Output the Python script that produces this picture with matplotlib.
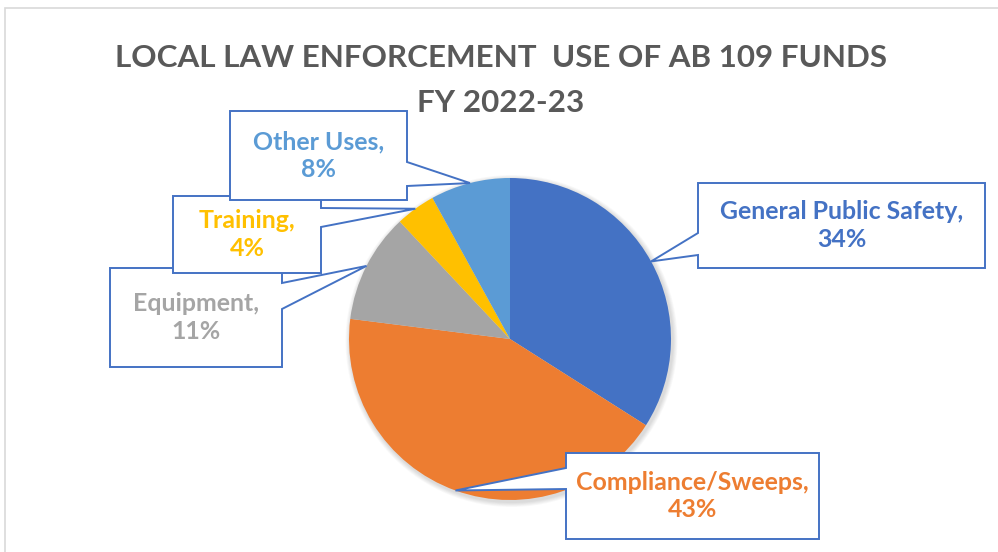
import numpy as np
import matplotlib
matplotlib.use("Agg")
import matplotlib.pyplot as plt
from matplotlib.patches import Polygon, Circle

# ---- data ----
categories = ["General Public Safety", "Compliance/Sweeps", "Equipment", "Training", "Other Uses"]
values = [34, 43, 11, 4, 8]
colors = ["#4472C4", "#ED7D31", "#A5A5A5", "#FFC000", "#5B9BD5"]
title_lines = ["LOCAL LAW ENFORCEMENT  USE OF AB 109 FUNDS", "FY 2022-23"]

W, H = 998, 552
fig = plt.figure(figsize=(W / 100, H / 100), dpi=100)
ax = fig.add_axes([0, 0, 1, 1])
ax.set_xlim(0, W)
ax.set_ylim(0, H)
ax.axis("off")

def Y(y_img):
    return H - y_img

FONT = ["Lato", "DejaVu Sans"]
renderer = fig.canvas.get_renderer()

def fit_size(text, width_px, weight="bold"):
    t = fig.text(0, 0, text, fontsize=10, family=FONT, weight=weight)
    w = t.get_window_extent(renderer).width
    t.remove()
    return 10 * width_px / w

# chart border
ax.plot([5, 5, W], [Y(H), Y(8), Y(8)], color="#D9D9D9", lw=1.2, solid_joinstyle="miter")

# pie
cx, cy, r = 510, Y(339), 161
for k in range(6):
    ax.add_patch(Circle((cx + 1.5, cy - 2), r + 1 + k * 0.8, color="black", alpha=0.025, lw=0, zorder=1))
ax.pie(values, colors=colors, startangle=90, counterclock=False,
       center=(cx, cy), radius=r, frame=True,
       wedgeprops=dict(linewidth=0, zorder=2))
ax.set_xlim(0, W)
ax.set_ylim(0, H)
ax.set_aspect("auto")
ax.axis("off")

# title
ts = fit_size(title_lines[0], 773)
ax.text(501, Y(58), title_lines[0], ha="center", va="center", fontsize=ts,
        family=FONT, weight="bold", color="#595959")
ax.text(501, Y(103), title_lines[1], ha="center", va="center", fontsize=ts,
        family=FONT, weight="bold", color="#595959")

# callout boxes: (x0, y0, x1, y1) in image px, side of pointer, base y range
boxes = {
    "Equipment": (110, 268, 282, 367, "right", 283, 309),
    "Training": (173, 196, 321, 273, "right", 208, 227),
    "Other Uses": (230, 111, 407, 200, "right", 162, 186),
    "General Public Safety": (698, 183, 985, 268, "left", 233, 255),
    "Compliance/Sweeps": (566, 453, 819, 539, "left", 468, 489),
}
order = ["Equipment", "Training", "Other Uses", "General Public Safety", "Compliance/Sweeps"]

total = sum(values)
cum = np.cumsum([0] + values)
mid_angles = {}
for i, c in enumerate(categories):
    frac = (cum[i] + values[i] / 2) / total
    mid_angles[c] = np.deg2rad(90 - 360 * frac)

ls = fit_size("General Public Safety,", 244)
z = 5
for c in order:
    x0, y0, x1, y1, side, b0, b1 = boxes[c]
    a = mid_angles[c]
    tip = (cx + r * np.cos(a), cy + r * np.sin(a))
    if side == "right":
        pts = [(x0, Y(y0)), (x1, Y(y0)), (x1, Y(b0)), tip, (x1, Y(b1)), (x1, Y(y1)), (x0, Y(y1))]
    else:
        pts = [(x0, Y(y0)), (x1, Y(y0)), (x1, Y(y1)), (x0, Y(y1)), (x0, Y(b1)), tip, (x0, Y(b0))]
    ax.add_patch(Polygon(pts, closed=True, facecolor="white", edgecolor="#4472C4",
                         lw=1.4, joinstyle="miter", zorder=z))
    i = categories.index(c)
    ax.text((x0 + x1) / 2, Y((y0 + y1) / 2), f"{c},\n{values[i]}%", ha="center", va="center",
            fontsize=ls, family=FONT, weight="bold", color=colors[i],
            linespacing=1.25, zorder=z + 0.5)
    z += 1

fig.savefig("out.png", dpi=100, facecolor="white")
